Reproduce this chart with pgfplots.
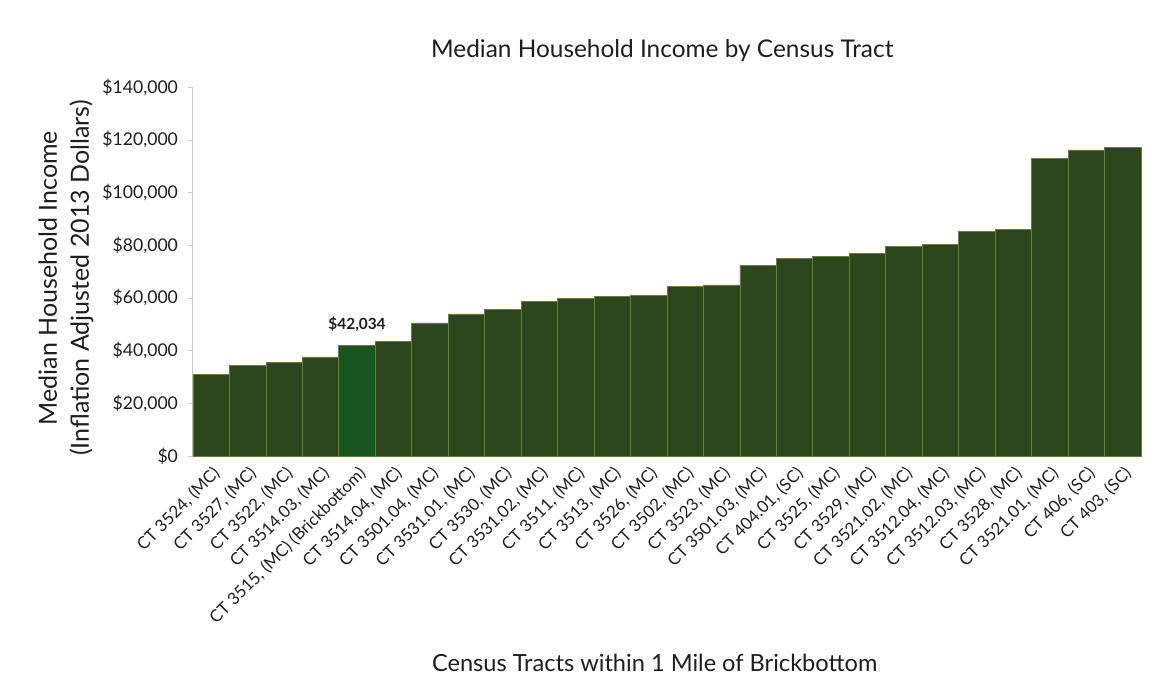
\documentclass[border=0pt]{standalone}
\usepackage{fontspec}
\setmainfont{Lato}
\usepackage{pgfplots}
\pgfplotsset{compat=1.18}
\definecolor{barolive}{RGB}{46,70,27}
\definecolor{barhi}{RGB}{24,86,32}
\definecolor{sepline}{RGB}{105,125,60}
\definecolor{axgray}{RGB}{200,200,205}
\definecolor{txt}{RGB}{30,30,30}
\begin{document}
\begin{tikzpicture}
\useasboundingbox (-96.5pt,-120pt) rectangle (480.5pt,228pt);
\begin{axis}[
  at={(0pt,0pt)}, anchor=south west,
  scale only axis, width=474pt, height=184.5pt,
  xmin=-0.5, xmax=25.5, ymin=0, ymax=140000,
  ytick={0,20000,40000,60000,80000,100000,120000,140000},
  yticklabels={{\$0},{\$20,000},{\$40,000},{\$60,000},{\$80,000},{\$100,000},{\$120,000},{\$140,000}},
  scaled y ticks=false,
  axis lines*=left,
  axis line style={draw=axgray, line width=0.5pt},
  tick align=outside,
  y tick style={draw=axgray},
  major tick length=2.5pt,
  x tick style={draw=none},
  xtick={0,...,25},
  xticklabels={{CT 3524, (MC)},{CT 3527, (MC)},{CT 3522, (MC)},{CT 3514.03, (MC)},{CT 3515, (MC) (Brickbottom)},{CT 3514.04, (MC)},{CT 3501.04, (MC)},{CT 3531.01, (MC)},{CT 3530, (MC)},{CT 3531.02, (MC)},{CT 3511, (MC)},{CT 3513, (MC)},{CT 3526, (MC)},{CT 3502, (MC)},{CT 3523, (MC)},{CT 3501.03, (MC)},{CT 404.01, (SC)},{CT 3525, (MC)},{CT 3529, (MC)},{CT 3521.02, (MC)},{CT 3512.04, (MC)},{CT 3512.03, (MC)},{CT 3528, (MC)},{CT 3521.01, (MC)},{CT 406, (SC)},{CT 403, (SC)}},
  xticklabel style={rotate=45, anchor=east, font=\fontsize{8.4}{9}\selectfont, text=txt, xshift=2pt, yshift=-5.5pt},
  yticklabel style={font=\fontsize{8.8}{9}\selectfont, text=txt, xshift=-1.5pt},
  title={Median Household Income by Census Tract},
  title style={font=\fontsize{12.2}{14}\selectfont, text=txt, anchor=center, at={(axis description cs:0.495,1.065)}},
  ylabel={Median Household Income\\(Inflation Adjusted 2013 Dollars)},
  ylabel style={font=\fontsize{12.5}{16}\selectfont, text=txt, align=center, anchor=center, at={(axis description cs:-0.134,0.482)}},
  xlabel={Census Tracts within 1 Mile of Brickbottom},
  xlabel style={font=\fontsize{11.8}{13}\selectfont, text=txt, anchor=center, at={(axis description cs:0.487,-0.561)}},
  ybar, bar width=1, bar shift=0pt,
  clip=false,
]
\addplot[fill=barolive, draw=sepline, line width=0.4pt] coordinates {
(0,31000) (1,34500) (2,35400) (3,37600) (4,42034) (5,43300) (6,50500) (7,53900)
(8,55700) (9,58700) (10,59800) (11,60500) (12,61000) (13,64300) (14,64900)
(15,72400) (16,74800) (17,75600) (18,76800) (19,79400) (20,80200) (21,85100)
(22,86000) (23,112800) (24,116100) (25,117200)
};
\addplot[fill=barhi, draw=sepline, line width=0.4pt,
  point meta=explicit symbolic,
  nodes near coords,
  nodes near coords style={font=\fontsize{7.7}{8}\selectfont\bfseries, text=txt, yshift=3pt}] coordinates {
(4,42034) [\$42{,}034]
};
\end{axis}
\end{tikzpicture}
\end{document}
